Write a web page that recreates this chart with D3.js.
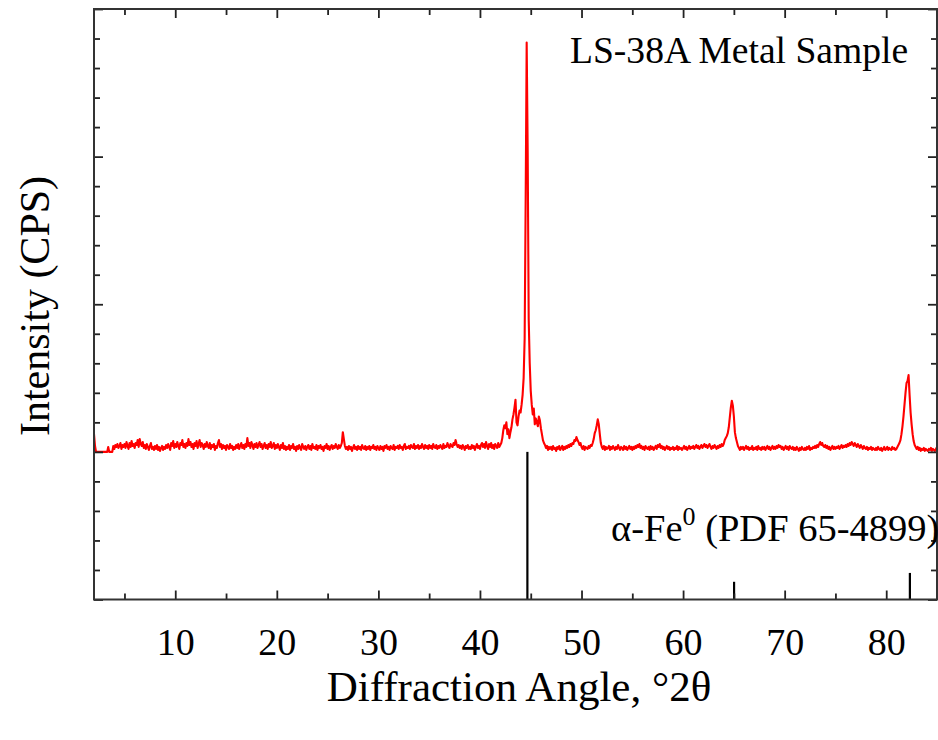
<!DOCTYPE html>
<html>
<head>
<meta charset="utf-8">
<script src="https://cdn.jsdelivr.net/npm/d3@7"></script>
<style>
  body { margin: 0; background: #fff; }
  svg { display: block; }
  text { font-family: "Liberation Serif", "Times New Roman", serif; fill: #000; }
</style>
</head>
<body>
<svg id="chart" width="938" height="740"></svg>
<script>
// XRD scan of the LS-38A metal sample: counts on a 0.1 deg 2-theta step from 2.0 deg
const scanStart = 2.0;
const scanStep = 0.1;
const scanCounts = [
  /* 2 */ 18, 6, 0, 0, 0, 0, 0, 0, 0, 0,
  /* 3 */ 0, 0, 0, 0, 5, 0, 0, 0, 0, 6,
  /* 4 */ 3, 7, 5, 8, 4, 6, 9, 3, 7, 5,
  /* 5 */ 8, 4, 10, 6, 3, 9, 5, 11, 6, 8,
  /* 6 */ 4, 9, 7, 12, 5, 13, 8, 6, 10, 4,
  /* 7 */ 7, 3, 8, 5, 2, 6, 9, 3, 5, 2,
  /* 8 */ 6, 3, 7, 2, 5, 1, 4, 6, 2, 5,
  /* 9 */ 3, 7, 4, 8, 5, 2, 9, 6, 11, 4,
  /* 10 */ 8, 5, 10, 6, 3, 9, 7, 12, 5, 8,
  /* 11 */ 4, 9, 6, 13, 7, 10, 5, 8, 3, 9,
  /* 12 */ 6, 11, 4, 8, 12, 5, 9, 7, 3, 8,
  /* 13 */ 5, 10, 6, 4, 9, 3, 7, 5, 8, 2,
  /* 14 */ 6, 4, 9, 12, 5, 8, 3, 7, 4, 6,
  /* 15 */ 2, 7, 5, 3, 8, 4, 6, 2, 5, 3,
  /* 16 */ 7, 4, 8, 3, 6, 9, 4, 7, 3, 8,
  /* 17 */ 5, 14, 6, 9, 4, 10, 7, 3, 8, 5,
  /* 18 */ 9, 4, 7, 10, 5, 8, 3, 6, 9, 4,
  /* 19 */ 7, 3, 8, 5, 10, 4, 6, 9, 3, 7,
  /* 20 */ 4, 8, 5, 2, 7, 4, 9, 3, 6, 2,
  /* 21 */ 5, 3, 7, 2, 6, 4, 8, 3, 5, 1,
  /* 22 */ 6, 3, 7, 4, 2, 8, 5, 3, 6, 2,
  /* 23 */ 5, 7, 3, 6, 2, 8, 4, 5, 3, 7,
  /* 24 */ 2, 6, 4, 7, 3, 5, 1, 6, 4, 8,
  /* 25 */ 3, 6, 2, 5, 7, 3, 6, 4, 8, 5,
  /* 26 */ 3, 7, 4, 6, 9, 20, 13, 6, 3, 5,
  /* 27 */ 2, 6, 3, 5, 1, 4, 7, 3, 5, 2,
  /* 28 */ 6, 3, 5, 2, 7, 4, 3, 6, 2, 5,
  /* 29 */ 3, 6, 2, 5, 4, 7, 3, 5, 2, 6,
  /* 30 */ 4, 2, 6, 3, 5, 1, 6, 4, 7, 3,
  /* 31 */ 5, 2, 6, 4, 3, 7, 2, 5, 4, 6,
  /* 32 */ 3, 7, 4, 5, 2, 6, 8, 3, 5, 4,
  /* 33 */ 6, 3, 7, 5, 4, 8, 3, 6, 4, 7,
  /* 34 */ 3, 6, 4, 8, 5, 3, 7, 4, 6, 3,
  /* 35 */ 7, 4, 6, 3, 8, 5, 4, 7, 3, 6,
  /* 36 */ 4, 7, 5, 3, 8, 4, 6, 5, 9, 6,
  /* 37 */ 4, 8, 6, 5, 9, 7, 12, 8, 5, 7,
  /* 38 */ 4, 6, 3, 7, 5, 2, 6, 4, 7, 3,
  /* 39 */ 5, 3, 7, 4, 6, 2, 5, 8, 4, 6,
  /* 40 */ 3, 7, 9, 5, 8, 4, 10, 6, 3, 8,
  /* 41 */ 5, 9, 4, 7, 3, 8, 6, 4, 9, 5,
  /* 42 */ 7, 9, 14, 22, 27, 24, 30, 18, 23, 14,
  /* 43 */ 20, 25, 33, 38, 45, 53, 30, 27, 36, 42,
  /* 44 */ 40, 48, 58, 75, 115, 255, 416, 305, 135, 90,
  /* 45 */ 62, 48, 38, 44, 28, 34, 30, 26, 36, 32,
  /* 46 */ 24, 18, 12, 9, 7, 4, 6, 2, 5, 3,
  /* 47 */ 5, 2, 6, 3, 4, 1, 5, 3, 6, 2,
  /* 48 */ 4, 6, 2, 5, 3, 6, 4, 7, 5, 8,
  /* 49 */ 6, 9, 8, 12, 11, 15, 12, 10, 7, 9,
  /* 50 */ 5, 3, 6, 2, 5, 4, 3, 6, 4, 7,
  /* 51 */ 6, 9, 13, 19, 22, 27, 33, 28, 18, 9,
  /* 52 */ 5, 3, 6, 2, 5, 3, 4, 6, 2, 5,
  /* 53 */ 3, 6, 4, 2, 5, 3, 7, 4, 2, 5,
  /* 54 */ 4, 2, 6, 3, 5, 2, 4, 6, 3, 5,
  /* 55 */ 2, 5, 3, 6, 4, 7, 5, 8, 4, 6,
  /* 56 */ 3, 5, 2, 6, 4, 3, 5, 2, 6, 3,
  /* 57 */ 5, 2, 4, 6, 3, 7, 5, 8, 4, 6,
  /* 58 */ 3, 5, 2, 4, 6, 3, 5, 2, 4, 3,
  /* 59 */ 5, 2, 4, 3, 6, 2, 5, 3, 4, 2,
  /* 60 */ 4, 6, 3, 5, 2, 4, 6, 3, 5, 4,
  /* 61 */ 6, 3, 5, 7, 4, 6, 3, 5, 7, 4,
  /* 62 */ 6, 8, 5, 7, 4, 6, 8, 5, 3, 6,
  /* 63 */ 4, 7, 5, 3, 6, 4, 7, 5, 8, 6,
  /* 64 */ 8, 12, 14, 16, 19, 25, 35, 45, 52, 47,
  /* 65 */ 36, 20, 14, 10, 6, 4, 2, 5, 3, 5,
  /* 66 */ 2, 4, 6, 3, 5, 2, 4, 3, 6, 2,
  /* 67 */ 4, 3, 5, 2, 6, 3, 4, 2, 5, 3,
  /* 68 */ 5, 2, 4, 6, 3, 5, 2, 4, 6, 3,
  /* 69 */ 5, 3, 6, 4, 7, 5, 6, 3, 5, 2,
  /* 70 */ 4, 6, 3, 5, 2, 6, 4, 3, 5, 2,
  /* 71 */ 4, 2, 5, 3, 1, 4, 2, 5, 3, 2,
  /* 72 */ 4, 2, 5, 3, 6, 2, 4, 3, 5, 4,
  /* 73 */ 6, 4, 7, 5, 8, 10, 7, 9, 6, 5,
  /* 74 */ 7, 4, 6, 3, 5, 2, 4, 6, 3, 5,
  /* 75 */ 3, 5, 4, 6, 3, 5, 7, 4, 6, 5,
  /* 76 */ 7, 5, 8, 6, 9, 7, 10, 8, 6, 9,
  /* 77 */ 7, 5, 8, 6, 4, 7, 5, 3, 6, 4,
  /* 78 */ 3, 5, 2, 4, 3, 5, 2, 4, 3, 2,
  /* 79 */ 4, 2, 5, 3, 2, 4, 1, 3, 5, 2,
  /* 80 */ 3, 5, 2, 4, 3, 2, 5, 3, 4, 2,
  /* 81 */ 3, 5, 7, 9, 12, 18, 26, 36, 48, 60,
  /* 82 */ 70, 72, 78, 58, 40, 28, 18, 11, 7, 5,
  /* 83 */ 3, 5, 2, 4, 1, 3, 2, 4, 1, 3,
  /* 84 */ 2, 1, 3, 2, 4, 1, 3, 2, 1, 3,
  /* 85 */ 5
];

// alpha-Fe reference pattern (PDF 65-4899): peak positions and relative intensities
const refAngles = [44.67, 65.02, 82.33];
const refIntensities = [100, 12, 18];

// axis ticks
const xTickValues = [10, 20, 30, 40, 50, 60, 70, 80];
const xMinorValues = [5, 15, 25, 35, 45, 55, 65, 75, 85];
const yMajorValues = [-150, 0, 150, 300, 450];
const yMinorValues = [-120, -90, -60, -30, 30, 60, 90, 120, 180, 210, 240, 270, 330, 360, 390, 420];

const xDomain = [2, 85];
const yDomain = [-150, 450];

const svg = d3.select("#chart");
const L = 94, R = 937, T = 9, B = 599.5;

const x = d3.scaleLinear().domain(xDomain).range([L, R]);
const y = d3.scaleLinear().domain(yDomain).range([B, T]);
// reference sticks occupy the lower band, 0..100 % relative intensity
const yRef = d3.scaleLinear().domain([0, 100]).range([y(-150), y(0)]);

const scan = scanCounts.map((c, i) => ({ angle: scanStart + i * scanStep, counts: c }));

svg.append("clipPath").attr("id", "plot-clip")
  .append("rect").attr("x", L).attr("y", T).attr("width", R - L).attr("height", B - T);

// diffraction trace
svg.append("path")
  .datum(scan)
  .attr("clip-path", "url(#plot-clip)")
  .attr("fill", "none")
  .attr("stroke", "#ff0000")
  .attr("stroke-width", 2.1)
  .attr("stroke-linejoin", "round")
  .attr("d", d3.line().x(d => x(d.angle)).y(d => y(d.counts)));

// reference sticks
svg.append("g").selectAll("line")
  .data(refAngles.map((a, i) => ({ angle: a, rel: refIntensities[i] })))
  .join("line")
  .attr("x1", d => x(d.angle)).attr("x2", d => x(d.angle))
  .attr("y1", yRef(0)).attr("y2", d => yRef(d.rel))
  .attr("stroke", "#000").attr("stroke-width", 2.2);

// axes: ticks point inward on all four sides
function styleAxis(g) {
  g.select(".domain").remove();
  g.selectAll(".tick line").attr("stroke", "#222").attr("stroke-width", 1.8);
}
const noLabel = () => "";

svg.append("g").attr("transform", `translate(0,${B})`)
  .call(d3.axisBottom(x).tickValues(xTickValues).tickSize(-9).tickPadding(29).tickFormat(d3.format("d")))
  .call(styleAxis)
  .call(g => g.selectAll(".tick text")
    .attr("font-family", '"Liberation Serif", "Times New Roman", serif')
    .attr("font-size", 38).attr("fill", "#000"));
svg.append("g").attr("transform", `translate(0,${B})`)
  .call(d3.axisBottom(x).tickValues(xMinorValues).tickSize(-6).tickFormat(noLabel))
  .call(styleAxis);
svg.append("g").attr("transform", `translate(0,${T})`)
  .call(d3.axisTop(x).tickValues(xTickValues).tickSize(-9).tickFormat(noLabel))
  .call(styleAxis);
svg.append("g").attr("transform", `translate(0,${T})`)
  .call(d3.axisTop(x).tickValues(xMinorValues).tickSize(-6).tickFormat(noLabel))
  .call(styleAxis);

svg.append("g").attr("transform", `translate(${L},0)`)
  .call(d3.axisLeft(y).tickValues(yMajorValues).tickSize(-9).tickFormat(noLabel))
  .call(styleAxis);
svg.append("g").attr("transform", `translate(${L},0)`)
  .call(d3.axisLeft(y).tickValues(yMinorValues).tickSize(-6).tickFormat(noLabel))
  .call(styleAxis);
svg.append("g").attr("transform", `translate(${R},0)`)
  .call(d3.axisRight(y).tickValues(yMajorValues).tickSize(-9).tickFormat(noLabel))
  .call(styleAxis);
svg.append("g").attr("transform", `translate(${R},0)`)
  .call(d3.axisRight(y).tickValues(yMinorValues).tickSize(-6).tickFormat(noLabel))
  .call(styleAxis);

// plot frame
svg.append("rect")
  .attr("x", L).attr("y", T).attr("width", R - L).attr("height", B - T)
  .attr("fill", "none").attr("stroke", "#333").attr("stroke-width", 2);

// axis titles
svg.append("text")
  .attr("x", 519).attr("y", 701)
  .attr("text-anchor", "middle").attr("font-size", 43)
  .text("Diffraction Angle, °2θ");
svg.append("text")
  .attr("transform", "translate(49,306) rotate(-90)")
  .attr("text-anchor", "middle").attr("font-size", 42)
  .text("Intensity (CPS)");

// annotations
svg.append("text")
  .attr("x", 570).attr("y", 63).attr("font-size", 37.6)
  .text("LS-38A Metal Sample");
const ref = svg.append("text").attr("x", 611).attr("y", 541).attr("font-size", 38.5);
ref.append("tspan").text("α-Fe");
ref.append("tspan").attr("font-size", 26).attr("dy", -16).text("0");
ref.append("tspan").attr("dy", 16).text(" (PDF 65-4899)");
</script>
</body>
</html>
